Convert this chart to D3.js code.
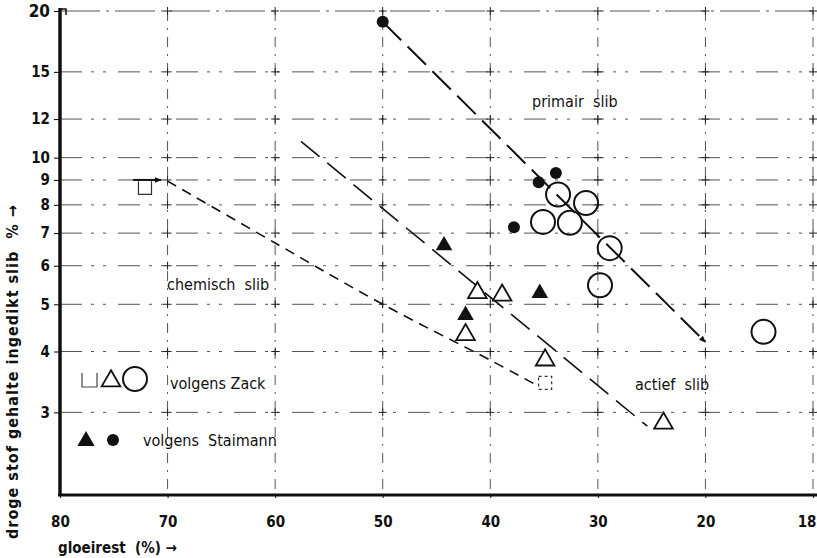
<!DOCTYPE html>
<html>
<head>
<meta charset="utf-8">
<script src="https://cdn.jsdelivr.net/npm/d3@7"></script>
<style>
   body { margin: 0; background: #fff; }
   svg text { font-family: "Liberation Sans Narrow", "DejaVu Sans Condensed", "Liberation Sans", sans-serif; fill: #111; }
</style>
</head>
<body>
<div id="chart"></div>
<script>
// axis ticks
const xTicks = [80, 70, 60, 50, 40, 30, 20, 10];
const xTickLabels = ["80", "70", "60", "50", "40", "30", "20", "18"];
const yTicks = [3, 4, 5, 6, 7, 8, 9, 10, 12, 15, 20];

// volgens Zack (open symbols): [gloeirest %, droge stof %]
const zackCircles = [[33.7, 8.4], [31.1, 8.07], [35.1, 7.38], [32.6, 7.35], [28.9, 6.52], [29.8, 5.47], [14.6, 4.39]];
const zackTriangles = [[41.2, 5.28], [38.9, 5.22], [42.3, 4.33], [34.9, 3.84], [23.9, 2.85]];
const zackSquares = [[72.1, 8.67], [34.9, 3.45]];

// volgens Staimann (filled symbols)
const staimannCircles = [[50, 19.0], [35.5, 8.9], [33.9, 9.3], [37.8, 7.2]];
const staimannTriangles = [[44.3, 6.6], [35.4, 5.27], [42.3, 4.75]];

// trend lines
const primairLine = [[50, 19.0], [20, 4.18]];
const actiefLine = [[57.6, 10.8], [25.4, 2.81]];
const chemischLine = [[70, 8.95], [60, 6.68], [50, 5.0], [40, 3.84], [36, 3.44]];
const chemischArrow = [[73.2, 9.0], [70.6, 9.0]];

const W = 817, H = 558;

const svg = d3.select("#chart")
   .append("svg")
   .attr("width", W)
   .attr("height", H);

const defs = svg.append("defs");
defs.append("marker")
   .attr("id", "arrow")
   .attr("viewBox", "0 0 10 10")
   .attr("refX", 9).attr("refY", 5)
   .attr("markerWidth", 7).attr("markerHeight", 7)
   .attr("markerUnits", "userSpaceOnUse")
   .attr("orient", "auto")
   .append("path")
   .attr("d", "M0,1 L10,5 L0,9 Z")
   .attr("fill", "#111");

const x = d3.scaleLinear().domain([80, 10]).range([60, 813]);
const y = d3.scaleLog().domain([2.03, 20]).range([495, 11]);

// grid, broken dash-dot like the scanned original
const grid = svg.append("g").attr("stroke", "#555").attr("stroke-width", 1).attr("fill", "none");

grid.selectAll(".hgrid")
   .data(yTicks)
   .enter()
   .append("line")
   .attr("class", "hgrid")
   .attr("x1", x(80)).attr("x2", x(10))
   .attr("y1", d => y(d)).attr("y2", d => y(d))
   .attr("stroke-dasharray", d => d === 20 ? "40,6,3,6" : "22,9,3,9,3,12");

grid.selectAll(".vgrid")
   .data(xTicks.filter(d => d !== 80))
   .enter()
   .append("line")
   .attr("class", "vgrid")
   .attr("x1", d => x(d)).attr("x2", d => x(d))
   .attr("y1", y(20)).attr("y2", y.range()[0])
   .attr("stroke-dasharray", "10,7,2,7");

// small crosses where grid lines meet
const crosses = [];
xTicks.filter(d => d !== 80).forEach(a => yTicks.forEach(b => crosses.push([a, b])));
grid.selectAll(".cross")
   .data(crosses)
   .enter()
   .append("path")
   .attr("class", "cross")
   .attr("d", d => `M${x(d[0]) - 4},${y(d[1])}h8M${x(d[0])},${y(d[1]) - 4}v8`)
   .attr("stroke", "#222");

// axes
const yAxis = svg.append("g")
   .attr("transform", `translate(${x(80)},0)`)
   .call(d3.axisLeft(y).tickValues(yTicks).tickFormat(d3.format("d")).tickSize(6).tickPadding(4));
yAxis.select(".domain").remove();
yAxis.selectAll("text")
   .attr("font-weight", "bold")
   .attr("font-size", d => d === 20 ? 17 : 15);

const xAxis = svg.append("g")
   .attr("transform", `translate(0,${y.range()[0]})`)
   .call(d3.axisBottom(x).tickValues(xTicks).tickFormat((d, i) => xTickLabels[i]).tickSize(3).tickPadding(18));
xAxis.select(".domain").remove();
xAxis.selectAll("text")
   .attr("font-size", 15)
   .attr("font-weight", "bold")
   .attr("text-anchor", d => d === 10 ? "end" : "middle")
   .attr("dx", d => d === 10 ? 3 : 0);

svg.append("line")
   .attr("x1", x(80)).attr("x2", x(80))
   .attr("y1", 8).attr("y2", y.range()[0] + 1)
   .attr("stroke", "#111").attr("stroke-width", 3.5);
svg.append("line")
   .attr("x1", x(80) - 2).attr("x2", 817)
   .attr("y1", y.range()[0]).attr("y2", y.range()[0])
   .attr("stroke", "#111").attr("stroke-width", 3);
svg.append("path")
   .attr("d", `M${x(80)},${y(20) - 2}h6v6`)
   .attr("stroke", "#111").attr("stroke-width", 1.5).attr("fill", "none");

// trend lines
const line = d3.line().x(d => x(d[0])).y(d => y(d[1]));

svg.append("path")
   .datum(primairLine)
   .attr("d", line)
   .attr("fill", "none")
   .attr("stroke", "#111")
   .attr("stroke-width", 2)
   .attr("stroke-dasharray", "26,9")
   .attr("marker-end", "url(#arrow)");

svg.append("path")
   .datum(actiefLine)
   .attr("d", line)
   .attr("fill", "none")
   .attr("stroke", "#111")
   .attr("stroke-width", 1.6)
   .attr("stroke-dasharray", "24,10");

svg.append("path")
   .datum(chemischLine)
   .attr("d", d3.line().x(d => x(d[0])).y(d => y(d[1])).curve(d3.curveCatmullRom))
   .attr("fill", "none")
   .attr("stroke", "#111")
   .attr("stroke-width", 1.6)
   .attr("stroke-dasharray", "10,7");

svg.append("path")
   .datum(chemischArrow)
   .attr("d", line)
   .attr("fill", "none")
   .attr("stroke", "#111")
   .attr("stroke-width", 2)
   .attr("marker-end", "url(#arrow)");

// markers
const tri = d3.symbol().type(d3.symbolTriangle);
const sq = d3.symbol().type(d3.symbolSquare).size(170);

svg.selectAll(".zsq")
   .data(zackSquares)
   .enter()
   .append("path")
   .attr("class", "zsq")
   .attr("transform", d => `translate(${x(d[0])},${y(d[1])})`)
   .attr("d", sq)
   .attr("fill", "none")
   .attr("stroke", "#333")
   .attr("stroke-width", 1.2)
   .attr("stroke-dasharray", (d, i) => i === 0 ? "0,13,39" : "3,3");

svg.selectAll(".ztri")
   .data(zackTriangles)
   .enter()
   .append("path")
   .attr("class", "ztri")
   .attr("transform", d => `translate(${x(d[0])},${y(d[1])})`)
   .attr("d", tri.size(150))
   .attr("fill", "#fff")
   .attr("stroke", "#111")
   .attr("stroke-width", 1.8);

svg.selectAll(".zcirc")
   .data(zackCircles)
   .enter()
   .append("circle")
   .attr("class", "zcirc")
   .attr("cx", d => x(d[0]))
   .attr("cy", d => y(d[1]))
   .attr("r", 12)
   .attr("fill", "none")
   .attr("stroke", "#111")
   .attr("stroke-width", 2);

svg.selectAll(".stri")
   .data(staimannTriangles)
   .enter()
   .append("path")
   .attr("class", "stri")
   .attr("transform", d => `translate(${x(d[0])},${y(d[1])})`)
   .attr("d", tri.size(120))
   .attr("fill", "#111");

svg.selectAll(".scirc")
   .data(staimannCircles)
   .enter()
   .append("circle")
   .attr("class", "scirc")
   .attr("cx", d => x(d[0]))
   .attr("cy", d => y(d[1]))
   .attr("r", 6)
   .attr("fill", "#111");

// region labels
const labels = [
   { text: "primair  slib", x: 532, y: 107 },
   { text: "chemisch  slib", x: 167, y: 290 },
   { text: "actief  slib", x: 635, y: 390 }
];
svg.selectAll(".region")
   .data(labels)
   .enter()
   .append("text")
   .attr("class", "region")
   .attr("x", d => d.x)
   .attr("y", d => d.y)
   .attr("font-size", 16)
   .style("white-space", "pre")
   .text(d => d.text);

// legend
const lg = svg.append("g");
lg.append("path")
   .attr("d", "M82,373 V387 H97 V373")
   .attr("fill", "none").attr("stroke", "#444").attr("stroke-width", 1.2);
lg.append("path")
   .attr("transform", "translate(111,381)")
   .attr("d", tri.size(150))
   .attr("fill", "#fff").attr("stroke", "#111").attr("stroke-width", 1.8);
lg.append("circle")
   .attr("cx", 135).attr("cy", 379).attr("r", 12)
   .attr("fill", "none").attr("stroke", "#111").attr("stroke-width", 2);
lg.append("text")
   .attr("x", 170).attr("y", 389)
   .attr("font-size", 16)
   .text("volgens Zack");

lg.append("path")
   .attr("transform", "translate(86,441)")
   .attr("d", tri.size(130))
   .attr("fill", "#111");
lg.append("circle")
   .attr("cx", 113).attr("cy", 440).attr("r", 6)
   .attr("fill", "#111");
lg.append("text")
   .attr("x", 143).attr("y", 446)
   .attr("font-size", 16)
   .style("white-space", "pre")
   .text("volgens  Staimann");

// axis titles
svg.append("text")
   .attr("x", 58).attr("y", 553)
   .attr("font-size", 15)
   .attr("font-weight", "bold")
   .style("white-space", "pre")
   .text("gloeirest  (%) \u2192");

svg.append("text")
   .attr("transform", "translate(18,539) rotate(-90)")
   .attr("font-size", 16)
   .attr("font-weight", "bold")
   .attr("letter-spacing", 1)
   .style("white-space", "pre")
   .text("droge stof gehalte ingedikt slib  % \u2192");
</script>
</body>
</html>
